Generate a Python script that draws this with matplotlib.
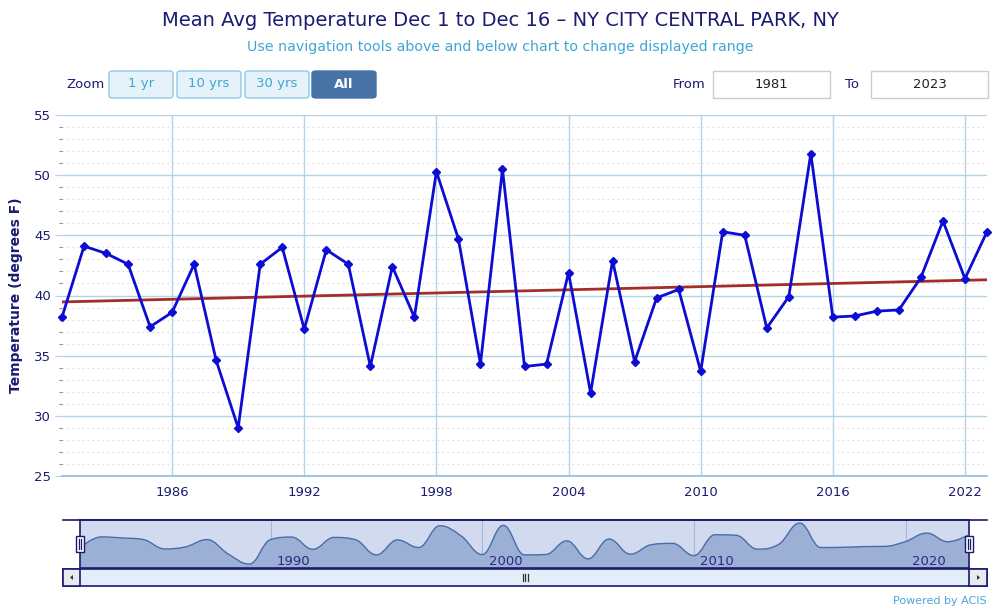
import matplotlib
matplotlib.use("Agg")
import matplotlib.pyplot as plt
import numpy as np
from matplotlib.patches import FancyBboxPatch, Rectangle, PathPatch, Polygon
from matplotlib.path import Path
from matplotlib.ticker import FixedLocator

# ---------------- data ----------------
years = list(range(1981, 2024))
temps = [38.2, 44.1, 43.5, 42.6, 37.4, 38.6, 42.6, 34.6, 29.0, 42.6,
         44.0, 37.2, 43.8, 42.6, 34.1, 42.4, 38.2, 50.3, 44.7, 34.3,
         50.5, 34.1, 34.3, 41.9, 31.9, 42.9, 34.5, 39.8, 40.5, 33.7,
         45.3, 45.0, 37.3, 39.9, 51.8, 38.2, 38.3, 38.7, 38.8, 41.5,
         46.2, 41.4, 45.3]
x_ticks = [1986, 1992, 1998, 2004, 2010, 2016, 2022]
y_ticks = [25, 30, 35, 40, 45, 50, 55]
nav_ticks = [1990, 2000, 2010, 2020]
title = "Mean Avg Temperature Dec 1 to Dec 16 \u2013 NY CITY CENTRAL PARK, NY"
subtitle = "Use navigation tools above and below chart to change displayed range"
zoom_buttons = ["1 yr", "10 yrs", "30 yrs", "All"]
from_year, to_year = "1981", "2023"

W, H = 1000, 611
NAVY = "#1b1b72"
LIGHTBLUE_TXT = "#3fa6d2"
GRID = "#b3d3e6"

def fx(x):
    return x / W

def fy(y):
    return 1 - y / H

fig = plt.figure(figsize=(W / 100, H / 100), dpi=100)
fig.patch.set_facecolor("white")

# ---------------- main axes ----------------
ax = fig.add_axes([fx(62), fy(476), (987 - 62) / W, (476 - 115) / H])
ax.set_xlim(years[0], years[-1])
ax.set_ylim(y_ticks[0], y_ticks[-1])
ax.set_facecolor("white")
for s in ["top", "right", "left"]:
    ax.spines[s].set_visible(False)
ax.spines["bottom"].set_color("#8fbcd6")
ax.spines["bottom"].set_linewidth(1.2)

minor_y = [v for v in range(y_ticks[0], y_ticks[-1] + 1) if v not in y_ticks]
ax.yaxis.set_major_locator(FixedLocator(y_ticks))
ax.yaxis.set_minor_locator(FixedLocator(minor_y))
ax.xaxis.set_major_locator(FixedLocator(x_ticks))
ax.grid(True, which="major", axis="both", color=GRID, linewidth=1.0)
ax.grid(True, which="minor", axis="y", color="#d9dde6", linewidth=0.8, linestyle=(0, (1.5, 3)))
ax.set_axisbelow(True)
ax.tick_params(axis="y", which="major", length=5, color=GRID, labelsize=9.5, labelcolor=NAVY, pad=3)
ax.tick_params(axis="y", which="minor", length=2.5, color="#888888", width=0.8)
ax.tick_params(axis="x", which="major", length=0, labelsize=9.5, labelcolor=NAVY, pad=7)
ax.set_ylabel("Temperature (degrees F)", fontsize=10, fontweight="bold", color=NAVY, labelpad=8)

# trend line (least squares fit of the series)
coef = np.polyfit(years, temps, 1)
trend = np.polyval(coef, years)
ax.plot(years, trend, color="#a52d27", linewidth=2.0, zorder=3, solid_capstyle="butt")

ax.plot(years, temps, color="#0c0cd2", linewidth=2.0, marker="D", markersize=4.5,
        markerfacecolor="#0c0cd2", markeredgecolor="#0c0cd2", zorder=4, clip_on=False)

# ---------------- titles ----------------
fig.text(0.5, fy(20), title, ha="center", va="center", fontsize=14, color=NAVY)
fig.text(0.5, fy(47), subtitle, ha="center", va="center", fontsize=10.2, color=LIGHTBLUE_TXT)

# ---------------- zoom buttons ----------------
fig.text(fx(105), fy(85), "Zoom", ha="right", va="center", fontsize=9.5, color=NAVY)
bx = [108, 176, 244, 311]
bw = 66
for i, lab in enumerate(zoom_buttons):
    sel = (lab == "All")
    p = FancyBboxPatch((fx(bx[i] + 1), fy(98)), fx(bw - 2), (98 - 71) / H,
                       boxstyle="round,pad=0.0,rounding_size=0.004",
                       transform=fig.transFigure, facecolor="#4672a6" if sel else "#e6f2fa",
                       edgecolor="#4672a6" if sel else "#8ccbe6", linewidth=1.0)
    fig.add_artist(p)
    fig.text(fx(bx[i] + bw / 2), fy(84), lab, ha="center", va="center", fontsize=9.5,
             color="white" if sel else LIGHTBLUE_TXT, fontweight="bold" if sel else "normal")

# From / To boxes
fig.text(fx(706), fy(84), "From", ha="right", va="center", fontsize=9.5, color=NAVY)
fig.text(fx(845), fy(84), "To", ha="left", va="center", fontsize=9.5, color=NAVY)
for (x0, x1, lab) in [(713, 830, from_year), (871, 988, to_year)]:
    r = Rectangle((fx(x0), fy(98)), fx(x1 - x0), (98 - 71) / H, transform=fig.transFigure,
                  facecolor="white", edgecolor="#cccccc", linewidth=1.0)
    fig.add_artist(r)
    fig.text(fx((x0 + x1) / 2), fy(84), lab, ha="center", va="center", fontsize=9.5, color="#222222")

# ---------------- navigator ----------------
nav = fig.add_axes([fx(80), fy(568), (969 - 80) / W, (568 - 520) / H])
nav.set_xlim(years[0], years[-1])
nav.set_ylim(26.8, 53.5)
nav.set_facecolor("#d1daee")
for s in nav.spines.values():
    s.set_color("#1a1a70")
    s.set_linewidth(1.2)
nav.set_xticks([])
nav.set_yticks([])
for t in nav_ticks:
    nav.axvline(t, color="#aab8d6", linewidth=0.8, zorder=1)

# Highcharts-like spline through the data
def spline_path(xs, ys, base):
    sm = 1.5
    den = sm + 1
    n = len(xs)
    lc = [None] * n
    rc = [None] * n
    for i in range(1, n - 1):
        x, y = xs[i], ys[i]
        lx, ly = xs[i - 1], ys[i - 1]
        nx, ny = xs[i + 1], ys[i + 1]
        lcx = (sm * x + lx) / den
        lcy = (sm * y + ly) / den
        rcx = (sm * x + nx) / den
        rcy = (sm * y + ny) / den
        corr = ((rcy - lcy) * (rcx - x)) / (rcx - lcx) + y - rcy
        lcy += corr
        rcy += corr
        if lcy > ly and lcy > y:
            lcy = max(ly, y)
            rcy = 2 * y - lcy
        elif lcy < ly and lcy < y:
            lcy = min(ly, y)
            rcy = 2 * y - lcy
        if rcy > ny and rcy > y:
            rcy = max(ny, y)
            lcy = 2 * y - rcy
        elif rcy < ny and rcy < y:
            rcy = min(ny, y)
            lcy = 2 * y - rcy
        lc[i] = (lcx, lcy)
        rc[i] = (rcx, rcy)
    lc[0] = rc[0] = (xs[0], ys[0])
    lc[-1] = rc[-1] = (xs[-1], ys[-1])
    verts = [(xs[0], ys[0])]
    codes = [Path.MOVETO]
    for i in range(1, n):
        verts += [rc[i - 1], lc[i], (xs[i], ys[i])]
        codes += [Path.CURVE4] * 3
    line_path = Path(verts, codes)
    fverts = [(xs[0], base)] + verts + [(xs[-1], base), (xs[0], base)]
    fcodes = [Path.MOVETO, Path.LINETO] + codes[1:] + [Path.LINETO, Path.CLOSEPOLY]
    return line_path, Path(fverts, fcodes)

lp, fp = spline_path(years, temps, 20)
nav.add_patch(PathPatch(fp, facecolor="#9cb0d6", edgecolor="none", zorder=2))
nav.add_patch(PathPatch(lp, facecolor="none", edgecolor="#4b6ca8", linewidth=1.0, zorder=3))
for t in nav_ticks:
    nav.text(t + 0.3, 27.0, str(t), ha="left", va="bottom", fontsize=9.5, color="#2b2b80", zorder=4)

# navigator top line
fig.add_artist(plt.Line2D([fx(63), fx(987)], [fy(520), fy(520)], transform=fig.transFigure,
                          color="#1a1a70", linewidth=1.2))
# handles
for hx in [80, 969]:
    r = Rectangle((fx(hx - 4), fy(552)), fx(8), 16 / H, transform=fig.transFigure,
                  facecolor="white", edgecolor="#1a1a70", linewidth=1.0, zorder=10)
    fig.add_artist(r)
    for dx in (-1.2, 1.2):
        fig.add_artist(plt.Line2D([fx(hx + dx), fx(hx + dx)], [fy(539), fy(549)],
                                  transform=fig.transFigure, color="#1a1a70", linewidth=0.9, zorder=11))

# scrollbar
sb = Rectangle((fx(63), fy(586)), fx(987 - 63), (586 - 569) / H, transform=fig.transFigure,
               facecolor="#e4eefb", edgecolor="#1a1a70", linewidth=1.2)
fig.add_artist(sb)
for (x0, x1) in [(63, 80), (969, 987)]:
    fig.add_artist(Rectangle((fx(x0), fy(586)), fx(x1 - x0), 17 / H, transform=fig.transFigure,
                             facecolor="#e8eaf0", edgecolor="#1a1a70", linewidth=1.2))
fig.add_artist(Polygon([(fx(70), fy(577.5)), (fx(73), fy(575)), (fx(73), fy(580))], closed=True,
                       transform=fig.transFigure, facecolor="#333333", edgecolor="none"))
fig.add_artist(Polygon([(fx(980), fy(577.5)), (fx(977), fy(575)), (fx(977), fy(580))], closed=True,
                       transform=fig.transFigure, facecolor="#333333", edgecolor="none"))
for dx in (-2.5, 0, 2.5):
    fig.add_artist(plt.Line2D([fx(525 + dx), fx(525 + dx)], [fy(574), fy(581)],
                              transform=fig.transFigure, color="#333333", linewidth=0.9))

fig.text(fx(987), fy(601), "Powered by ACIS", ha="right", va="center", fontsize=8, color="#4aa6d6")

fig.savefig("out.png", dpi=100, facecolor="white")
